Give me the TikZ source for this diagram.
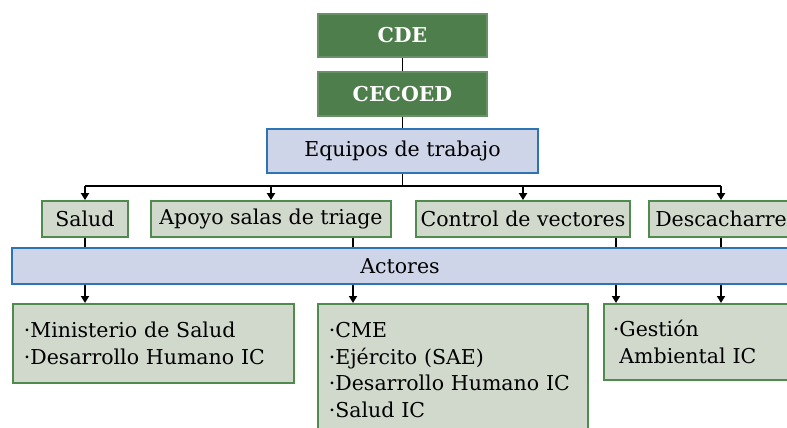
\documentclass[tikz,border=0pt]{standalone}
\usepackage{fontspec}
\setmainfont{DejaVu Serif}
\usetikzlibrary{arrows.meta,positioning}
\definecolor{headgreen}{HTML}{4E7E4C}
\definecolor{teamfill}{HTML}{D0D9CB}
\definecolor{teamline}{HTML}{4F8A4F}
\definecolor{bandfill}{HTML}{CFD5E8}
\definecolor{bandline}{HTML}{2E74B5}
\tikzset{
  head/.style={draw=headgreen!85!white, fill=headgreen, text=white, font=\bfseries, minimum width=169pt, minimum height=43pt, inner sep=0pt},
  band/.style={draw=bandline, fill=bandfill, minimum height=36pt, inner sep=0pt},
  team/.style={draw=teamline, fill=teamfill, minimum height=36pt, inner xsep=3pt, inner ysep=0pt},
  actor/.style={team, align=left, anchor=north west, inner xsep=11pt},
  arr/.style={-{Triangle[width=8pt,length=7pt]}}
}

\begin{document}
\begin{tikzpicture}[x=1pt, y=-1pt, line width=1.8pt, node font=\fontsize{20.5}{26.5}\selectfont]
\clip (0,0) rectangle (787,428);
% top of the chart
\node[head] (cde) at (402.5,35.5) {CDE};
\node[head, minimum height=44pt] (cecoed) at (402.5,94) {CECOED};
\node[band, minimum width=271pt, minimum height=44pt] (equipos) at (402.5,151) {Equipos de trabajo};
% teams
\node[team, minimum width=86pt] (salud) at (85,219) {Salud};
\node[team, minimum width=240pt] (apoyo) at (271,219) {Apoyo salas de triage};
\node[team, minimum width=214pt] (control) at (523,219) {Control de vectores};
\node[team, minimum width=144pt] (desc) at (721,219) {Descacharre};
\node[band, minimum width=776pt] (actores) at (400,266) {Actores};
% actors
\node[actor, text width=259pt, minimum height=79pt] (act1) at (12,303) {·Ministerio de Salud\\·Desarrollo Humano IC};
\node[actor, text width=248pt, minimum height=132pt] (act2) at (317,303) {·CME\\·Ejército (SAE)\\·Desarrollo Humano IC\\·Salud IC};
\node[actor, inner xsep=9pt, text width=190pt, minimum height=76pt] (act3) at (603,303) {·Gestión\\\phantom{·}Ambiental IC};
% connectors
\coordinate (bus) at (0,186);
\coordinate (x2) at (353,0);
\coordinate (x3) at (616,0);
\draw (cde) -- (cecoed);
\draw (cecoed) -- (equipos);
\draw (equipos.south) -- (equipos.south |- bus);
\draw (salud.north |- bus) -- (desc.north |- bus);
\foreach \t in {salud,apoyo,control,desc}
  \draw[arr] (\t.north |- bus) -- (\t.north);
\draw (salud.south) -- (salud.south |- actores.north);
\draw (apoyo.south -| x2) -- (actores.north -| x2);
\draw (control.south -| x3) -- (actores.north -| x3);
\draw (desc.south) -- (desc.south |- actores.north);
\draw[arr] (actores.south -| salud) -- (act1.north -| salud);
\draw[arr] (actores.south -| x2) -- (act2.north -| x2);
\draw[arr] (actores.south -| x3) -- (act3.north -| x3);
\draw[arr] (actores.south -| desc) -- (act3.north -| desc);
\end{tikzpicture}
\end{document}
